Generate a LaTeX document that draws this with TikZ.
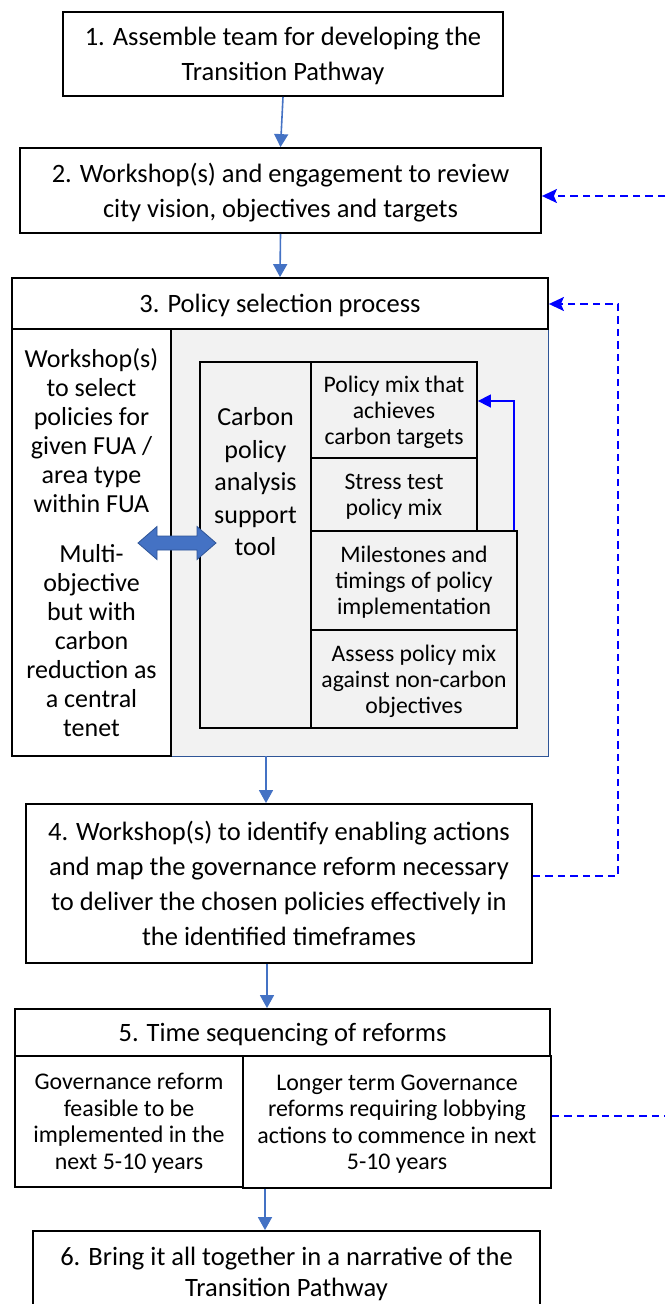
\documentclass[tikz,border=0pt]{standalone}
\usepackage{fontspec}
\setmainfont{Carlito}
\usepackage{xcolor}
\usepackage{tikz}
\usetikzlibrary{shapes,arrows,positioning,calc,arrows.meta}

\definecolor{flowblue}{RGB}{68,114,196}
\definecolor{loopblue}{RGB}{0,0,255}
\definecolor{panelgray}{RGB}{242,242,242}
\definecolor{paneledge}{RGB}{47,85,151}

\newcommand{\mainfs}{\fontsize{26.5}{35}\selectfont}
\newcommand{\leftfs}{\fontsize{26}{29}\selectfont}
\newcommand{\toolfs}{\fontsize{26}{32.5}\selectfont}
\newcommand{\innerfs}{\fontsize{23.7}{26}\selectfont}
\newcommand{\subfs}{\fontsize{23.9}{26.5}\selectfont}

\begin{document}
\begin{tikzpicture}[x=1pt,y=-1pt,
    stepbox/.style={draw, line width=1.8pt, fill=white, align=center, inner sep=0pt, text depth=0pt, font=\mainfs},
    toolbox/.style={stepbox, fill=panelgray, font=\innerfs},
    flow/.style={flowblue, line width=1.6pt, -{Triangle[length=13pt,width=14pt]}},
    feedback/.style={loopblue, line width=1.6pt, dash pattern=on 7.5pt off 5pt},
    feedarrow/.style={feedback, -{Stealth[length=15pt,width=14pt,inset=3pt]}},
    innerloop/.style={loopblue, line width=1.6pt, -{Triangle[length=13pt,width=13pt]}}]
    \useasboundingbox (0,0) rectangle (665,1304);

    % Steps 1 and 2
    \node[stepbox, minimum width=440pt, minimum height=84pt] (b1) at (283,54)
        {1. Assemble team for developing the\\Transition Pathway};
    \node[stepbox, minimum width=521pt, minimum height=85pt] (b2) at (280.5,190.5)
        {2. Workshop(s) and engagement to review\\city vision, objectives and targets};

    % Step 3: policy selection panel
    \node[fill=panelgray, inner sep=0pt, minimum width=377pt, minimum height=427pt] (panel) at (359.5,542.5) {};
    \draw[paneledge, line width=1.4pt] (panel.north east) -- (panel.south east) -- (panel.south west);
    \node[stepbox, minimum width=536pt, minimum height=51pt] (b3) at (280,303.5)
        {3. Policy selection process};
    \node[stepbox, font=\leftfs, minimum width=159pt, minimum height=427pt] (wsbox) at (91.5,542.5)
        {Workshop(s)\\to select\\policies for\\given FUA /\\area type\\within FUA\\[21pt]Multi-\\objective\\but with\\carbon\\reduction as\\a central\\tenet};
    \node[toolbox, minimum width=111pt, minimum height=366pt] (tool) at (255.5,545) {};
    \node[font=\toolfs, align=center] at ([yshift=63pt]tool.center)
        {Carbon\\policy\\analysis\\support\\tool};
    \node[toolbox, minimum width=166pt, minimum height=96pt] (mix) at (394,410)
        {Policy mix that\\achieves\\carbon targets};
    \node[toolbox, minimum width=166pt, minimum height=73pt] (stress) at (394,494.5)
        {Stress test\\policy mix};
    \node[toolbox, minimum width=206pt, minimum height=99pt] (ms) at (414,580.5)
        {Milestones and\\timings of policy\\implementation};
    \node[toolbox, minimum width=206pt, minimum height=98pt] (assess) at (414,679)
        {Assess policy mix\\against non-carbon\\objectives};
    \draw[innerloop] ([xshift=-4pt]ms.north east) |- ([yshift=9pt]mix.east);
    % two-way link between workshop and tool
    \coordinate (link) at (177,543);
    \draw[fill=flowblue, draw=paneledge, line width=0.8pt] ([xshift=-39pt]link)
        -- ++(19,-16.5) -- ++(0,9.5) -- ++(40,0) -- ++(0,-9.5) -- ++(19,16.5)
        -- ++(-19,16.5) -- ++(0,-9.5) -- ++(-40,0) -- ++(0,9.5) -- cycle;

    % Step 4
    \node[stepbox, minimum width=506pt, minimum height=159pt] (b4) at (279,883.5)
        {4. Workshop(s) to identify enabling actions\\and map the governance reform necessary\\to deliver the chosen policies effectively in\\the identified timeframes};

    % Step 5
    \node[stepbox, minimum width=535pt, minimum height=47pt] (b5) at (282.5,1032.5)
        {5. Time sequencing of reforms};
    \node[stepbox, font=\subfs, minimum width=228pt, minimum height=131pt] (subleft) at (129,1121.5)
        {Governance reform\\feasible to be\\implemented in the\\next 5-10 years};
    \node[stepbox, font=\subfs, minimum width=308pt, minimum height=132pt] (subright) at (397,1122)
        {Longer term Governance\\reforms requiring lobbying\\actions to commence in next\\5-10 years};

    % Step 6
    \node[stepbox, font=\fontsize{26.5}{31.5}\selectfont, minimum width=507pt, minimum height=82pt] (b6) at (286.5,1272)
        {6. Bring it all together in a narrative of the\\Transition Pathway};

    % Main flow
    \draw[flow] (b1.south) -- (b2.north);
    \draw[flow] (b2.south) -- (b3.north);
    \draw[flow] ([xshift=-13pt]b4.north |- panel.south) -- ([xshift=-13pt]b4.north);
    \draw[flow] ([xshift=-12pt]b4.south) -- ([xshift=-12pt]b4.south |- b5.north);
    \draw[flow] ([xshift=-21.5pt]b6.north |- subright.south) -- ([xshift=-21.5pt]b6.north);

    % Feedback loops
    \coordinate (rim) at (665,0);
    \coordinate (fbline) at (618,0);
    \coordinate (in2) at ([yshift=-5.5pt]b2.east);
    \coordinate (in3) at ([yshift=-0.5pt]b3.east);
    \coordinate (out4) at ([yshift=7.5pt]b4.east);
    \coordinate (out5) at ([yshift=6pt]subright.east);
    \draw[feedarrow] (rim |- in2) -- (in2);
    \draw[feedarrow] (out4) -| (fbline |- in3) -- (in3);
    \draw[feedback] (out5) -- (out5 -| rim);
\end{tikzpicture}
\end{document}
